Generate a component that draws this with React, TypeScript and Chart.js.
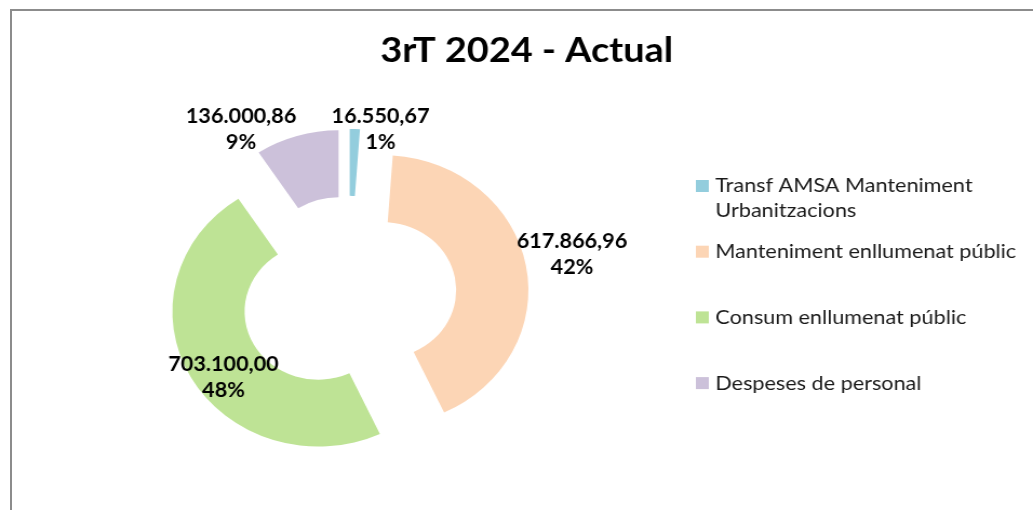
import React, { useEffect, useRef } from 'react';
import { Chart, registerables } from 'chart.js';

Chart.register(...registerables);

// ---------- data ----------
const chartTitle = '3rT 2024 - Actual';
const categories = [
  'Transf AMSA Manteniment Urbanitzacions',
  'Manteniment enllumenat públic',
  'Consum enllumenat públic',
  'Despeses de personal',
];
const values = [16550.67, 617866.96, 703100.0, 136000.86];

// ---------- style ----------
const sliceColors = ['#93CDDD', '#FCD5B5', '#BEE395', '#CCC1DA'];
const VIEW_W = 1033;
const VIEW_H = 510;
const CANVAS_H = 520; // drawn a little taller, clipped by the frame box
const STRETCH = 1.08; // reference picture is widened horizontally
const CANVAS_W = Math.round(VIEW_W / STRETCH);
const EXPLODE = 32;
const FONT = 'Lato';
// label placement relative to each exploded slice: rotation (deg) from its bisector, distance (px) from its centre
const labelPlacement = [
  { turn: 10, dist: 137 },
  { turn: -1, dist: 179 },
  { turn: -8, dist: 110 },
  { turn: -17, dist: 163 },
];
const legendStyle = { x: 644, top: 186, step: 65.7, box: 12, gap: 6, lineHeight: 25, maxWidth: 290, size: 20 };

function formatValue(v: number): string {
  const [i, d] = v.toFixed(2).split('.');
  return i.replace(/\B(?=(\d{3})+(?!\d))/g, '.') + ',' + d;
}

const explodePlugin = {
  id: 'explodeSlices',
  afterDatasetUpdate(chart: any, args: any) {
    const meta = args.meta || chart.getDatasetMeta(args.index);
    meta.data.forEach((arc: any) => {
      const mid = (arc.startAngle + arc.endAngle) / 2;
      arc.x += Math.cos(mid) * EXPLODE;
      arc.y += Math.sin(mid) * EXPLODE;
    });
  },
};

const sliceLabelsPlugin = {
  id: 'sliceLabels',
  afterDatasetsDraw(chart: any) {
    const meta = chart.getDatasetMeta(0);
    const data = chart.data.datasets[0].data as number[];
    const total = data.reduce((a, b) => a + b, 0);
    const ctx = chart.ctx as CanvasRenderingContext2D;
    ctx.save();
    ctx.font = `bold 20px ${FONT}`;
    ctx.fillStyle = '#000';
    ctx.textAlign = 'center';
    ctx.textBaseline = 'middle';
    meta.data.forEach((arc: any, i: number) => {
      const p = labelPlacement[i];
      const a = (arc.startAngle + arc.endAngle) / 2 + (p.turn * Math.PI) / 180;
      const x = arc.x + Math.cos(a) * p.dist;
      const y = arc.y + Math.sin(a) * p.dist;
      ctx.fillText(formatValue(data[i]), x, y - 13);
      ctx.fillText(Math.round((data[i] / total) * 100) + '%', x, y + 13);
    });
    ctx.restore();
  },
};

const sideLegendPlugin = {
  id: 'sideLegend',
  afterDraw(chart: any) {
    const ctx = chart.ctx as CanvasRenderingContext2D;
    const labels = chart.data.labels as string[];
    const colors = chart.data.datasets[0].backgroundColor as string[];
    const s = legendStyle;
    ctx.save();
    ctx.font = `${s.size}px ${FONT}`;
    ctx.textAlign = 'left';
    ctx.textBaseline = 'middle';
    labels.forEach((label, i) => {
      const yc = s.top + i * s.step;
      ctx.fillStyle = colors[i];
      ctx.fillRect(s.x, yc - s.box / 2, s.box, s.box);
      const words = label.split(' ');
      const lines: string[] = [];
      let cur = '';
      words.forEach((w) => {
        const t = cur ? cur + ' ' + w : w;
        if (cur && ctx.measureText(t).width > s.maxWidth) {
          lines.push(cur);
          cur = w;
        } else cur = t;
      });
      if (cur) lines.push(cur);
      ctx.fillStyle = '#1a1a1a';
      lines.forEach((ln, k) => ctx.fillText(ln, s.x + s.box + s.gap, yc + k * s.lineHeight));
    });
    ctx.restore();
  },
};

export default function App() {
  const ref = useRef<HTMLCanvasElement>(null);
  useEffect(() => {
    let chart: Chart | null = null;
    let cancelled = false;
    const make = () => {
      if (cancelled || !ref.current) return;
      chart = new Chart(ref.current, {
        type: 'doughnut',
        data: {
          labels: categories,
          datasets: [
            {
              data: values,
              backgroundColor: sliceColors,
              borderWidth: 0,
            },
          ],
        },
        options: {
          responsive: false,
          animation: false,
          radius: 135,
          cutout: '50.5%',
          layout: { padding: { left: 22, right: CANVAS_W - 623, top: 30, bottom: 0 } },
          plugins: {
            legend: { display: false },
            tooltip: { enabled: false },
            title: {
              display: true,
              text: chartTitle,
              align: 'end',
              color: '#000',
              font: { family: FONT, size: 35, weight: 'bold', lineHeight: 1.2 },
              padding: { top: 0, bottom: 0 },
            },
          },
        } as any,
        plugins: [explodePlugin, sliceLabelsPlugin, sideLegendPlugin],
      });
    };
    const fonts = (document as any).fonts;
    if (fonts && fonts.load) {
      Promise.all([fonts.load(`bold 35px ${FONT}`), fonts.load(`bold 20px ${FONT}`), fonts.load(`20px ${FONT}`)])
        .catch(() => null)
        .then(make);
    } else make();
    return () => {
      cancelled = true;
      if (chart) chart.destroy();
    };
  }, []);

  return (
    <div
      style={{
        position: 'fixed',
        left: 0,
        top: 0,
        width: VIEW_W,
        height: VIEW_H,
        overflow: 'hidden',
        background: '#fff',
      }}
    >
      <canvas
        ref={ref}
        width={CANVAS_W}
        height={CANVAS_H}
        style={{ position: 'absolute', left: 0, top: 0, width: VIEW_W + 'px', height: CANVAS_H + 'px' }}
      />
      <div
        style={{
          position: 'absolute',
          left: 10,
          top: 9,
          width: 1100,
          height: 600,
          border: '2px solid #8c8c8c',
          pointerEvents: 'none',
        }}
      />
    </div>
  );
}
